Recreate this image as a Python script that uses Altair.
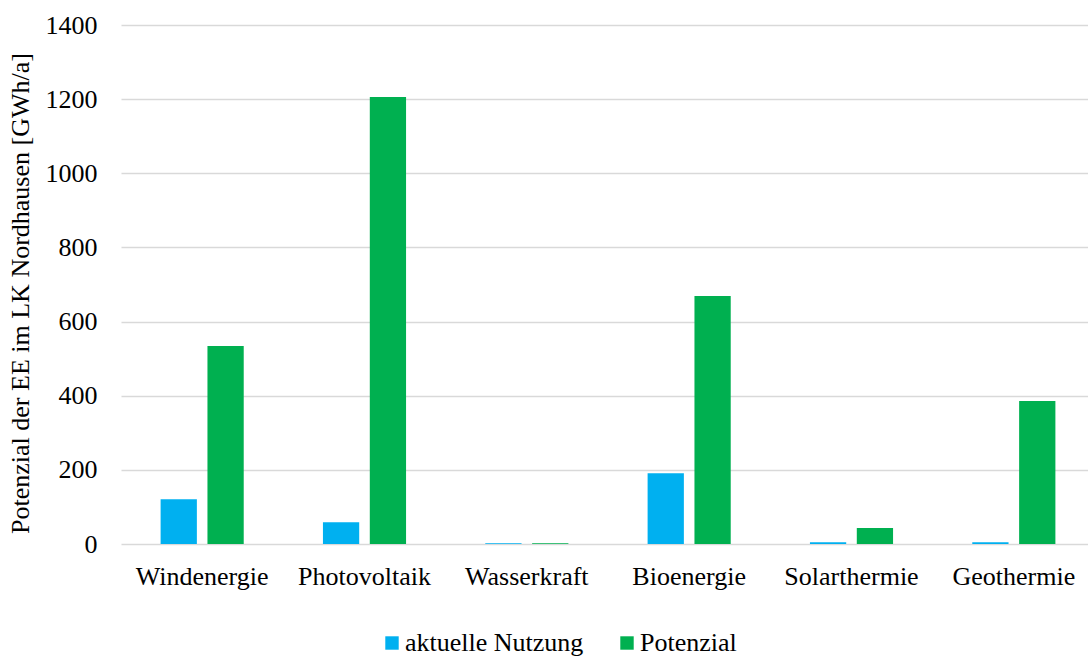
import altair as alt
import pandas as pd

categories = ["Windenergie", "Photovoltaik", "Wasserkraft", "Bioenergie", "Solarthermie", "Geothermie"]
aktuelle_nutzung = [121, 59, 2, 191, 5, 5]
potenzial = [534, 1206, 2, 669, 43, 386]
series = ["aktuelle Nutzung", "Potenzial"]
colors = ["#00b0f0", "#00b050"]

rows = []
for c, a, p in zip(categories, aktuelle_nutzung, potenzial):
    rows.append({"Kategorie": c, "Serie": series[0], "Wert": a})
    rows.append({"Kategorie": c, "Serie": series[1], "Wert": p})
df = pd.DataFrame(rows)

font = "Liberation Serif, Times New Roman, serif"
fs = 26

chart = alt.Chart(df).mark_bar().encode(
    x=alt.X("Kategorie:N", sort=categories, title=None,
            scale=alt.Scale(paddingInner=0.488, paddingOuter=0.244, range=[1, 975]),
            axis=alt.Axis(labelAngle=0, ticks=False, domain=False, labelPadding=19,
                          labelFontSize=fs, labelFont=font, labelColor="#000000")),
    xOffset=alt.XOffset("Serie:N", sort=series, scale=alt.Scale(paddingInner=0.226, paddingOuter=0)),
    y=alt.Y("Wert:Q", title="Potenzial der EE im LK Nordhausen [GWh/a]",
            scale=alt.Scale(domain=[0, 1400], nice=False),
            axis=alt.Axis(values=[0, 200, 400, 600, 800, 1000, 1200, 1400], format="d",
                          ticks=False, domain=False,
                          labelPadding=23, labelFontSize=fs, labelFont=font, labelColor="#000000",
                          titleFontSize=fs, titleFont=font, titleFontWeight="normal", titleColor="#000000",
                          titlePadding=12, titleY=268, gridColor="#d9d9d9", gridWidth=1.3)),
    color=alt.Color("Serie:N", sort=series, scale=alt.Scale(domain=series, range=colors),
                    legend=alt.Legend(title=None, orient="none", direction="horizontal",
                                      legendX=259, legendY=605, symbolType="square", symbolSize=180,
                                      symbolStrokeWidth=0, labelFontSize=fs, labelFont=font,
                                      labelColor="#000000", labelLimit=0, columnPadding=30,
                                      symbolOffset=0, labelOffset=0)),
).properties(
    width=968, height=519,
    autosize=alt.AutoSizeParams(type="none"),
    padding={"left": 120, "top": 25, "right": 0, "bottom": 112},
).configure(background="#ffffff", font=font).configure_view(stroke=None)

chart.save("out.html", embed_options={"renderer": "svg", "actions": False})
